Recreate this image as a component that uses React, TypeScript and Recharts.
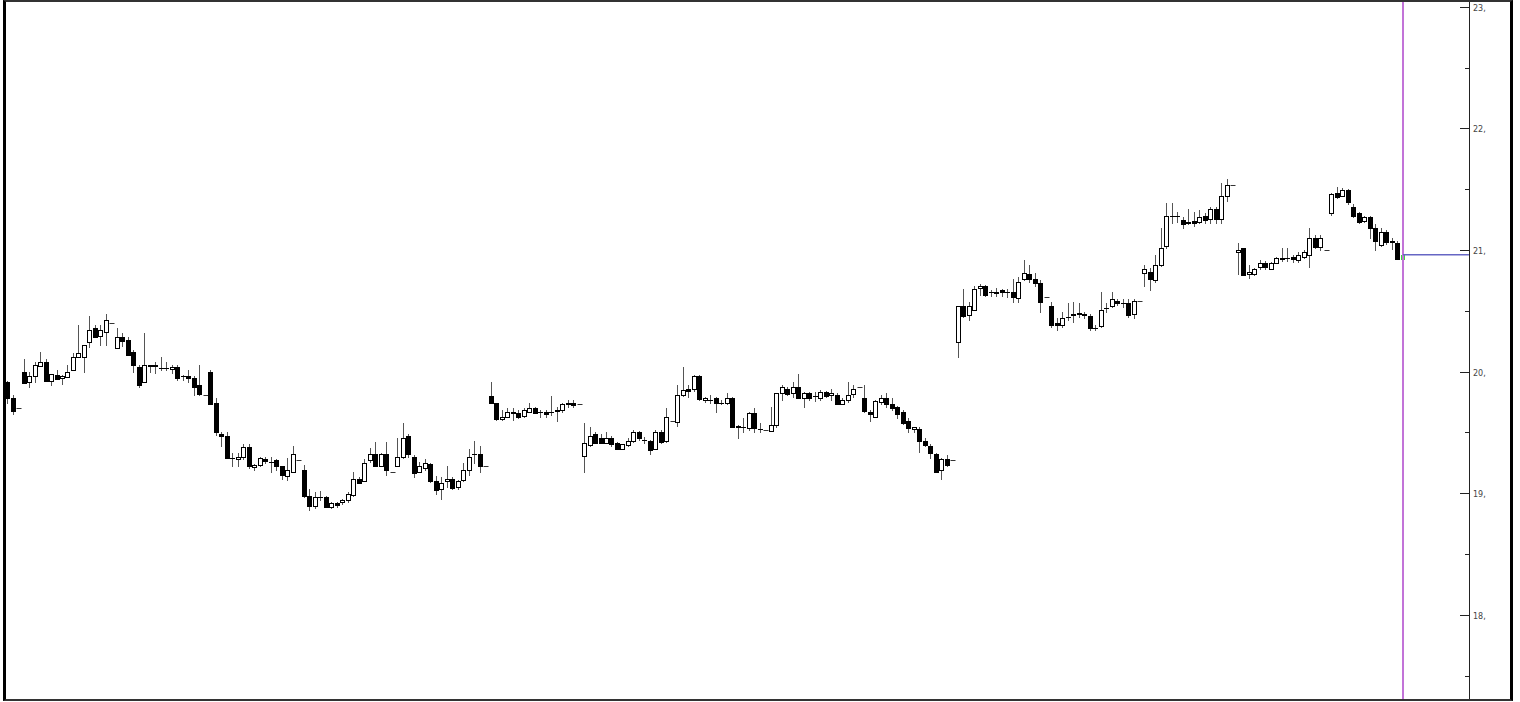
import { Bar, ComposedChart, ReferenceLine, XAxis, YAxis } from "recharts";

// one candle per 30 min slot, each day closes with a flat auction bar
const opens = [
  19.91, 19.78, 19.7,
  20.0, 19.91, 19.96, 20.05, 20.08, 19.92, 19.97, 19.94, 19.96, 20.01, 20.12, 20.12, 20.24, 20.36, 20.29, 20.32, 20.4,
  20.19, 20.28, 20.26, 20.16, 20.04, 19.91, 20.05, 20.04, 20.03, 20.03, 20.02, 20.04, 19.96, 19.96, 19.95, 19.89, 19.81,
  20.0, 19.74, 19.49, 19.47, 19.29, 19.28, 19.3, 19.38, 19.21, 19.23, 19.28, 19.26, 19.27, 19.22, 19.14, 19.17, 19.27,
  19.19, 18.98, 18.9, 18.97, 18.97, 18.89, 18.92, 18.92, 18.94, 18.99, 19.12, 19.1, 19.27, 19.32, 19.22, 19.32, 19.17,
  19.23, 19.29, 19.47, 19.3, 19.17, 19.21, 19.24, 19.1, 19.03, 19.1, 19.12, 19.05, 19.11, 19.19, 19.32, 19.32, 19.22,
  19.8, 19.74, 19.61, 19.63, 19.67, 19.66, 19.63, 19.67, 19.7, 19.67, 19.67, 19.67, 19.67, 19.68, 19.73, 19.74, 19.73,
  19.3, 19.4, 19.49, 19.45, 19.41, 19.45, 19.41, 19.36, 19.4, 19.43, 19.5, 19.44, 19.43, 19.36, 19.5, 19.43, 19.59,
  19.59, 19.81, 19.86, 19.85, 19.96, 19.76, 19.77, 19.78, 19.74, 19.74, 19.78, 19.55, 19.54, 19.54, 19.66, 19.53, 19.52,
  19.51, 19.56, 19.82, 19.86, 19.82, 19.87, 19.78, 19.82, 19.8, 19.78, 19.83, 19.8, 19.81, 19.74, 19.77, 19.82, 19.87,
  19.78, 19.67, 19.63, 19.75, 19.78, 19.73, 19.71, 19.67, 19.59, 19.52, 19.53, 19.43, 19.39, 19.32, 19.19, 19.28, 19.27,
  20.24, 20.54, 20.47, 20.51, 20.68, 20.7, 20.65, 20.64, 20.67, 20.65, 20.65, 20.61, 20.76, 20.8, 20.76, 20.73, 20.61,
  20.54, 20.4, 20.38, 20.45, 20.46, 20.48, 20.47, 20.46, 20.36, 20.38, 20.52, 20.54, 20.58, 20.56, 20.56, 20.47, 20.58,
  20.81, 20.82, 20.76, 20.88, 21.03, 21.28, 21.28, 21.25, 21.22, 21.24, 21.23, 21.28, 21.26, 21.34, 21.25, 21.44, 21.53,
  20.98, 21.02, 20.8, 20.8, 20.86, 20.89, 20.84, 20.89, 20.92, 20.93, 20.94, 20.92, 20.94, 20.96, 21.1, 21.03, 21.0,
  21.3, 21.47, 21.44, 21.49, 21.35, 21.3, 21.24, 21.27, 21.18, 21.04, 21.15, 21.07, 21.06, 20.93,
];

const highs = [
  19.92, 19.81, 19.7,
  20.1, 20.0, 20.08, 20.16, 20.1, 19.98, 20.01, 19.97, 20.05, 20.15, 20.38, 20.22, 20.46, 20.38, 20.38, 20.47, 20.4,
  20.36, 20.32, 20.28, 20.18, 20.05, 20.32, 20.05, 20.08, 20.12, 20.08, 20.05, 20.05, 19.97, 20.01, 19.96, 20.05, 19.81,
  20.01, 19.78, 19.5, 19.5, 19.33, 19.33, 19.4, 19.4, 19.24, 19.3, 19.3, 19.3, 19.28, 19.22, 19.29, 19.39, 19.27,
  19.23, 19.03, 19.01, 19.02, 18.98, 18.93, 18.93, 18.95, 19.01, 19.17, 19.13, 19.28, 19.37, 19.42, 19.33, 19.42, 19.17,
  19.45, 19.58, 19.49, 19.31, 19.26, 19.28, 19.25, 19.14, 19.13, 19.22, 19.13, 19.11, 19.25, 19.36, 19.43, 19.39, 19.22,
  19.91, 19.74, 19.68, 19.7, 19.7, 19.68, 19.7, 19.74, 19.71, 19.68, 19.68, 19.8, 19.71, 19.74, 19.77, 19.77, 19.73,
  19.58, 19.54, 19.5, 19.49, 19.5, 19.47, 19.42, 19.4, 19.45, 19.52, 19.51, 19.46, 19.44, 19.52, 19.52, 19.7, 19.59,
  19.89, 20.04, 19.89, 19.97, 19.97, 19.79, 19.81, 19.79, 19.77, 19.82, 19.79, 19.56, 19.62, 19.67, 19.7, 19.58, 19.52,
  19.71, 19.82, 19.89, 19.87, 19.91, 19.98, 19.83, 19.83, 19.83, 19.85, 19.84, 19.86, 19.82, 19.78, 19.91, 19.89, 19.87,
  19.89, 19.68, 19.77, 19.81, 19.82, 19.78, 19.72, 19.68, 19.62, 19.54, 19.54, 19.45, 19.4, 19.33, 19.29, 19.31, 19.27,
  20.54, 20.68, 20.57, 20.7, 20.72, 20.71, 20.67, 20.69, 20.68, 20.68, 20.76, 20.78, 20.92, 20.88, 20.81, 20.75, 20.61,
  20.57, 20.44, 20.49, 20.56, 20.57, 20.56, 20.49, 20.47, 20.38, 20.65, 20.56, 20.65, 20.6, 20.6, 20.6, 20.6, 20.58,
  20.88, 20.85, 20.96, 21.18, 21.39, 21.39, 21.31, 21.27, 21.34, 21.31, 21.33, 21.3, 21.35, 21.35, 21.55, 21.58, 21.53,
  21.06, 21.02, 20.88, 20.85, 20.92, 20.91, 20.9, 20.94, 21.02, 21.02, 20.96, 20.98, 21.0, 21.18, 21.12, 21.12, 21.0,
  21.47, 21.52, 21.51, 21.5, 21.38, 21.31, 21.28, 21.28, 21.21, 21.18, 21.16, 21.1, 21.07, 20.96,
];

const lows = [
  19.74, 19.65, 19.7,
  19.91, 19.87, 19.91, 20.05, 19.92, 19.89, 19.94, 19.9, 19.96, 20.01, 20.12, 20.0, 20.2, 20.28, 20.22, 20.22, 20.4,
  20.19, 20.21, 20.14, 20.0, 19.87, 19.91, 20.0, 19.99, 20.01, 20.01, 19.99, 19.93, 19.93, 19.91, 19.81, 19.81, 19.81,
  19.74, 19.48, 19.39, 19.29, 19.22, 19.22, 19.28, 19.21, 19.19, 19.22, 19.25, 19.17, 19.19, 19.12, 19.11, 19.17, 19.27,
  18.97, 18.86, 18.88, 18.94, 18.89, 18.88, 18.89, 18.91, 18.93, 18.98, 19.08, 19.1, 19.26, 19.22, 19.22, 19.15, 19.17,
  19.23, 19.29, 19.3, 19.13, 19.17, 19.19, 19.09, 18.99, 18.95, 19.05, 19.03, 19.03, 19.1, 19.15, 19.25, 19.17, 19.22,
  19.74, 19.6, 19.6, 19.63, 19.6, 19.62, 19.63, 19.67, 19.66, 19.63, 19.63, 19.64, 19.59, 19.67, 19.71, 19.71, 19.73,
  19.17, 19.39, 19.41, 19.41, 19.41, 19.39, 19.36, 19.36, 19.39, 19.42, 19.44, 19.41, 19.32, 19.36, 19.41, 19.42, 19.59,
  19.55, 19.8, 19.79, 19.84, 19.77, 19.75, 19.74, 19.67, 19.73, 19.73, 19.54, 19.45, 19.5, 19.52, 19.5, 19.5, 19.52,
  19.51, 19.54, 19.77, 19.81, 19.79, 19.78, 19.71, 19.77, 19.76, 19.77, 19.79, 19.77, 19.73, 19.73, 19.75, 19.79, 19.87,
  19.67, 19.59, 19.63, 19.73, 19.71, 19.68, 19.62, 19.57, 19.5, 19.5, 19.34, 19.39, 19.29, 19.17, 19.12, 19.22, 19.27,
  20.12, 20.45, 20.42, 20.51, 20.63, 20.62, 20.62, 20.62, 20.62, 20.61, 20.57, 20.57, 20.75, 20.74, 20.7, 20.49, 20.61,
  20.37, 20.34, 20.37, 20.42, 20.41, 20.45, 20.44, 20.34, 20.34, 20.37, 20.49, 20.53, 20.55, 20.53, 20.45, 20.44, 20.58,
  20.7, 20.67, 20.74, 20.87, 21.02, 21.22, 21.23, 21.18, 21.21, 21.2, 21.22, 21.22, 21.22, 21.22, 21.22, 21.4, 21.53,
  20.8, 20.8, 20.77, 20.79, 20.84, 20.84, 20.84, 20.89, 20.91, 20.91, 20.9, 20.9, 20.93, 20.86, 21.02, 21.0, 21.0,
  21.29, 21.43, 21.44, 21.38, 21.27, 21.22, 21.23, 21.1, 21.0, 21.03, 21.05, 21.01, 20.93, 20.93,
];

const closes = [
  19.78, 19.67, 19.7,
  19.91, 19.96, 20.05, 20.08, 19.92, 19.98, 19.94, 19.96, 20.0, 20.12, 20.15, 20.22, 20.34, 20.29, 20.34, 20.42, 20.4,
  20.28, 20.25, 20.14, 20.05, 19.89, 20.05, 20.04, 20.05, 20.03, 20.03, 20.04, 19.95, 19.96, 19.94, 19.88, 19.82, 19.81,
  19.74, 19.5, 19.47, 19.29, 19.29, 19.3, 19.38, 19.22, 19.23, 19.29, 19.26, 19.26, 19.22, 19.15, 19.19, 19.32, 19.27,
  18.98, 18.9, 18.97, 18.97, 18.89, 18.92, 18.9, 18.94, 18.99, 19.12, 19.09, 19.25, 19.32, 19.22, 19.32, 19.19, 19.17,
  19.3, 19.45, 19.32, 19.17, 19.22, 19.25, 19.1, 19.03, 19.08, 19.12, 19.05, 19.1, 19.19, 19.3, 19.32, 19.22, 19.22,
  19.74, 19.61, 19.63, 19.67, 19.66, 19.63, 19.68, 19.7, 19.66, 19.67, 19.65, 19.67, 19.68, 19.73, 19.74, 19.72, 19.73,
  19.41, 19.47, 19.42, 19.41, 19.45, 19.4, 19.36, 19.4, 19.43, 19.5, 19.45, 19.44, 19.36, 19.5, 19.42, 19.63, 19.59,
  19.81, 19.85, 19.84, 19.96, 19.77, 19.78, 19.77, 19.74, 19.74, 19.78, 19.54, 19.54, 19.54, 19.66, 19.54, 19.53, 19.52,
  19.56, 19.82, 19.87, 19.82, 19.87, 19.78, 19.82, 19.78, 19.8, 19.83, 19.8, 19.82, 19.74, 19.77, 19.81, 19.86, 19.87,
  19.67, 19.65, 19.76, 19.78, 19.73, 19.7, 19.65, 19.58, 19.53, 19.54, 19.43, 19.4, 19.33, 19.17, 19.28, 19.23, 19.27,
  20.54, 20.46, 20.54, 20.68, 20.7, 20.63, 20.65, 20.65, 20.65, 20.65, 20.61, 20.74, 20.81, 20.76, 20.73, 20.57, 20.61,
  20.38, 20.38, 20.44, 20.45, 20.47, 20.47, 20.46, 20.36, 20.36, 20.51, 20.52, 20.6, 20.56, 20.56, 20.46, 20.58, 20.58,
  20.84, 20.76, 20.88, 21.02, 21.28, 21.28, 21.28, 21.22, 21.23, 21.22, 21.27, 21.25, 21.34, 21.26, 21.44, 21.53, 21.53,
  21.0, 20.8, 20.82, 20.84, 20.89, 20.86, 20.89, 20.93, 20.93, 20.93, 20.92, 20.96, 20.98, 21.1, 21.03, 21.1, 21.0,
  21.46, 21.44, 21.49, 21.39, 21.28, 21.23, 21.27, 21.18, 21.07, 21.15, 21.07, 21.06, 20.93, 20.96,
];

const lastPrice = 20.96;
const priceTicks = [17.5, 18, 18.5, 19, 19.5, 20, 20.5, 21, 21.5, 22, 22.5, 23];

const candles = opens.map((o, i) => ({
  i,
  o,
  h: highs[i],
  l: lows[i],
  c: closes[i],
  range: [lows[i], highs[i]],
}));
const lastIndex = candles.length - 1;

function Candle(props: any) {
  const { x, y, width, height, payload } = props;
  if (x == null || y == null || !payload) return null;
  const cx = Math.round(x + width / 2) + 0.5;
  const top = Math.min(y, y + height);
  const bottom = Math.max(y, y + height);
  const span = payload.h - payload.l;
  const py = (p: number) =>
    span > 0 ? top + ((payload.h - p) / span) * (bottom - top) : top;

  const yo = py(payload.o);
  const yc = py(payload.c);
  const bodyTop = Math.round(Math.min(yo, yc)) + 0.5;
  const bodyH = Math.round(Math.abs(yo - yc));

  if (span === 0) {
    return (
      <line x1={cx - 2} x2={cx + 3} y1={Math.round(top) + 0.5} y2={Math.round(top) + 0.5} stroke="#333" />
    );
  }

  if (payload.i === lastIndex) {
    return (
      <g shapeRendering="crispEdges">
        <rect x={cx - 2} y={bodyTop} width={3} height={Math.max(bodyH, 3)} fill="#555" stroke="#3fd43f" />
      </g>
    );
  }

  const up = payload.c >= payload.o;
  return (
    <g shapeRendering="crispEdges">
      <line x1={cx} x2={cx} y1={Math.round(top)} y2={Math.round(bottom) + 1} stroke="#555" />
      {bodyH < 1 ? (
        <line x1={cx - 2.5} x2={cx + 2.5} y1={bodyTop} y2={bodyTop} stroke="#000" />
      ) : (
        <rect
          x={cx - 2}
          y={bodyTop}
          width={4}
          height={bodyH}
          fill={up ? "#fff" : "#000"}
          stroke="#000"
        />
      )}
    </g>
  );
}

function PriceTick(props: any) {
  const { x, y, payload } = props;
  const major = Number.isInteger(payload.value);
  const ty = Math.round(y) + 0.5;
  return (
    <g shapeRendering="crispEdges">
      <line x1={x - (major ? 9 : 4)} x2={x} y1={ty} y2={ty} stroke="#222" />
      {major && (
        <text x={x + 4} y={y + 4} fontSize={8} fill="#444" fontFamily="DejaVu Sans, Verdana, sans-serif">
          {`${payload.value},`}
        </text>
      )}
    </g>
  );
}

export default function App() {
  return (
    <div
      style={{
        position: "absolute",
        left: 3,
        top: 0,
        width: 1510,
        height: 701,
        boxSizing: "border-box",
        borderLeft: "3px solid #000",
        borderRight: "3px solid #000",
        borderTop: "2px solid #333",
        borderBottom: "2px solid #333",
        background: "#fff",
      }}
    >
      <ComposedChart
        width={1504}
        height={697}
        data={candles}
        margin={{ top: 0, right: 0, left: 0, bottom: 0 }}
      >
        <XAxis
          dataKey="i"
          type="number"
          domain={[-0.237, 266.01]}
          allowDataOverflow
          hide
        />
        <YAxis
          orientation="right"
          type="number"
          width={41}
          domain={[17.307, 23.039]}
          allowDataOverflow
          ticks={priceTicks}
          interval={0}
          tickSize={0}
          tickMargin={0}
          tickLine={false}
          axisLine={{ stroke: "#222", shapeRendering: "crispEdges" }}
          tick={PriceTick}
        />
        <ReferenceLine x={lastIndex} stroke="#c273d8" strokeWidth={2} />
        <ReferenceLine
          segment={[
            { x: lastIndex, y: lastPrice },
            { x: 266, y: lastPrice },
          ]}
          stroke="#6666c4"
          strokeWidth={1.5}
        />
        <Bar dataKey="range" barSize={5} shape={Candle} isAnimationActive={false} />
      </ComposedChart>
    </div>
  );
}
